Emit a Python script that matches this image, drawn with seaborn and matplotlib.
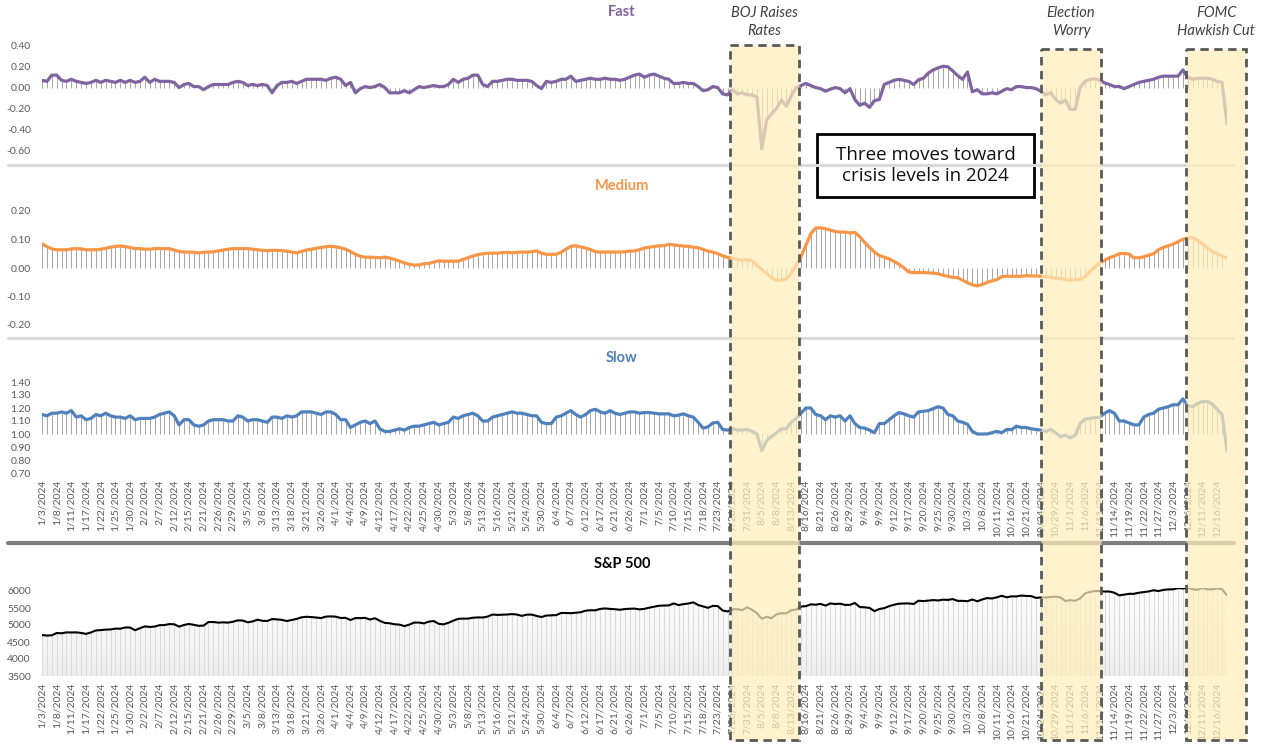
import numpy as np
import pandas as pd
import matplotlib
matplotlib.use("Agg")
import matplotlib.pyplot as plt
import seaborn as sns
from matplotlib.patches import Rectangle
from matplotlib.lines import Line2D
from matplotlib.colors import LinearSegmentedColormap
from matplotlib.ticker import FormatStrFormatter

# trading days shown: 1/3/2024 .. 12/18/2024 (NYSE calendar)
start_date = "2024-01-03"
end_date = "2024-12-18"
holidays = ["2024-01-15", "2024-02-19", "2024-03-29", "2024-05-27",
            "2024-06-19", "2024-07-04", "2024-09-02", "2024-11-28"]

fast = [
    0.07, 0.06, 0.12, 0.12, 0.07, 0.06, 0.08, 0.06, 0.05, 0.04, 0.05, 0.07, 0.05, 0.07, 0.06, 0.05, 0.07, 0.05, 0.07, 0.05,
    0.06, 0.10, 0.05, 0.08, 0.06, 0.06, 0.06, 0.05, 0.00, 0.03, 0.04, 0.01, 0.01, -0.02, 0.01, 0.03, 0.03, 0.03, 0.03, 0.05,
    0.06, 0.05, 0.02, 0.03, 0.02, 0.03, 0.02, -0.05, 0.02, 0.05, 0.05, 0.06, 0.04, 0.06, 0.08, 0.08, 0.08, 0.08, 0.07, 0.09,
    0.10, 0.08, 0.02, 0.05, -0.05, -0.01, 0.01, 0.00, 0.01, 0.03, 0.00, -0.05, -0.05, -0.05, -0.03, -0.05, -0.02, 0.01, 0.00, 0.01, 0.02, 0.01,
    0.01, 0.03, 0.08, 0.05, 0.08, 0.09, 0.12, 0.12, 0.03, 0.01, 0.06, 0.06, 0.07, 0.08, 0.08, 0.07, 0.07, 0.07, 0.06, 0.02, -0.01, 0.06,
    0.05, 0.06, 0.08, 0.08, 0.11, 0.06, 0.07, 0.08, 0.09, 0.08, 0.08, 0.09, 0.08, 0.08, 0.07, 0.08, 0.10, 0.12, 0.13,
    0.10, 0.12, 0.13, 0.11, 0.09, 0.08, 0.04, 0.04, 0.05, 0.04, 0.04, 0.01, -0.03, -0.02, 0.01, 0.00, -0.06, -0.07, -0.02, -0.06, -0.05, -0.07,
    -0.07, -0.09, -0.59, -0.31, -0.25, -0.20, -0.12, -0.18, -0.08, 0.00, 0.02, 0.04, 0.02, 0.00, -0.01, -0.035, -0.015, 0.00, -0.01, -0.05, -0.01, -0.115,
    -0.17, -0.15, -0.19, -0.125, -0.115, 0.03, 0.05, 0.07, 0.08, 0.07, 0.06, 0.03, 0.075, 0.09, 0.14, 0.17, 0.19, 0.205, 0.20, 0.16,
    0.115, 0.08, 0.15, -0.04, -0.02, -0.06, -0.06, -0.05, -0.06, -0.035, -0.01, -0.02, 0.01, 0.01, 0.00, 0.00, -0.01, -0.035, -0.07, -0.05, -0.115, -0.15, -0.12,
    -0.21, -0.21, 0.00, 0.06, 0.08, 0.085, 0.07, 0.045, 0.03, 0.01, 0.01, -0.01, 0.01, 0.03, 0.05, 0.06, 0.07, 0.08, 0.10, 0.11,
    0.11, 0.11, 0.11, 0.17, 0.10, 0.08, 0.09, 0.09, 0.09, 0.08, 0.06, 0.05, -0.35,
]

medium = [
    0.085, 0.075, 0.067, 0.064, 0.064, 0.064, 0.067, 0.068, 0.067, 0.064, 0.064, 0.064, 0.066, 0.069, 0.073, 0.076, 0.077, 0.075, 0.072, 0.068,
    0.068, 0.066, 0.066, 0.068, 0.068, 0.068, 0.068, 0.063, 0.058, 0.056, 0.056, 0.055, 0.053, 0.055, 0.056, 0.057, 0.060, 0.063, 0.066, 0.068,
    0.068, 0.068, 0.068, 0.066, 0.064, 0.062, 0.061, 0.062, 0.062, 0.061, 0.059, 0.056, 0.053, 0.058, 0.063, 0.066, 0.069, 0.072, 0.075, 0.076,
    0.074, 0.071, 0.066, 0.058, 0.048, 0.041, 0.038, 0.038, 0.037, 0.036, 0.038, 0.035, 0.030, 0.024, 0.018, 0.013, 0.010, 0.011, 0.015, 0.016, 0.021, 0.025,
    0.024, 0.024, 0.024, 0.024, 0.030, 0.036, 0.042, 0.047, 0.050, 0.052, 0.052, 0.052, 0.054, 0.055, 0.053, 0.055, 0.056, 0.056, 0.057, 0.060, 0.052, 0.048,
    0.048, 0.048, 0.055, 0.066, 0.076, 0.078, 0.074, 0.070, 0.065, 0.057, 0.056, 0.056, 0.056, 0.056, 0.056, 0.057, 0.059, 0.060, 0.064,
    0.070, 0.073, 0.075, 0.078, 0.078, 0.083, 0.081, 0.079, 0.077, 0.076, 0.073, 0.071, 0.065, 0.059, 0.056, 0.050, 0.043, 0.037, 0.035, 0.030, 0.027, 0.029,
    0.026, 0.009, -0.005, -0.020, -0.035, -0.043, -0.043, -0.038, -0.020, 0.010, 0.040, 0.080, 0.120, 0.140, 0.141, 0.138, 0.133, 0.128, 0.126, 0.126, 0.123, 0.125,
    0.110, 0.090, 0.072, 0.056, 0.044, 0.038, 0.032, 0.023, 0.013, 0.001, -0.014, -0.016, -0.016, -0.016, -0.017, -0.018, -0.020, -0.025, -0.029, -0.033,
    -0.034, -0.043, -0.052, -0.059, -0.063, -0.058, -0.051, -0.045, -0.041, -0.030, -0.029, -0.029, -0.029, -0.029, -0.027, -0.028, -0.028, -0.029, -0.030, -0.033, -0.036, -0.037, -0.040,
    -0.043, -0.041, -0.040, -0.031, -0.012, 0.003, 0.018, 0.027, 0.036, 0.042, 0.050, 0.051, 0.049, 0.036, 0.036, 0.039, 0.045, 0.050, 0.064, 0.072,
    0.078, 0.084, 0.092, 0.101, 0.105, 0.107, 0.097, 0.085, 0.070, 0.058, 0.050, 0.042, 0.035,
]

slow = [
    1.15, 1.14, 1.16, 1.16, 1.17, 1.16, 1.18, 1.13, 1.14, 1.11, 1.12, 1.15, 1.14, 1.16, 1.14, 1.13, 1.13, 1.12, 1.14, 1.11,
    1.12, 1.12, 1.12, 1.13, 1.15, 1.16, 1.17, 1.14, 1.07, 1.11, 1.11, 1.07, 1.06, 1.07, 1.10, 1.11, 1.11, 1.11, 1.10, 1.10,
    1.14, 1.13, 1.10, 1.11, 1.11, 1.10, 1.09, 1.13, 1.13, 1.12, 1.14, 1.13, 1.14, 1.17, 1.17, 1.17, 1.16, 1.15, 1.17, 1.17,
    1.15, 1.11, 1.11, 1.05, 1.07, 1.09, 1.10, 1.08, 1.10, 1.04, 1.02, 1.02, 1.03, 1.04, 1.03, 1.05, 1.06, 1.06, 1.07, 1.08, 1.09, 1.07,
    1.08, 1.09, 1.13, 1.12, 1.14, 1.15, 1.16, 1.14, 1.10, 1.10, 1.13, 1.14, 1.15, 1.16, 1.17, 1.16, 1.16, 1.15, 1.14, 1.14, 1.09, 1.08,
    1.08, 1.13, 1.14, 1.16, 1.18, 1.15, 1.13, 1.15, 1.18, 1.19, 1.17, 1.16, 1.18, 1.16, 1.15, 1.16, 1.17, 1.17, 1.16,
    1.165, 1.165, 1.16, 1.155, 1.155, 1.155, 1.14, 1.145, 1.155, 1.14, 1.13, 1.09, 1.045, 1.055, 1.085, 1.09, 1.035, 1.03, 1.04, 1.03, 1.03, 1.035,
    1.02, 1.00, 0.87, 0.95, 0.98, 1.01, 1.04, 1.04, 1.09, 1.12, 1.16, 1.20, 1.20, 1.15, 1.14, 1.11, 1.14, 1.13, 1.14, 1.10, 1.14, 1.08,
    1.05, 1.045, 1.03, 1.01, 1.08, 1.08, 1.11, 1.14, 1.165, 1.155, 1.14, 1.13, 1.17, 1.175, 1.18, 1.195, 1.21, 1.20, 1.15, 1.14,
    1.10, 1.09, 1.075, 1.02, 1.00, 1.00, 1.00, 1.01, 1.02, 1.01, 1.035, 1.033, 1.06, 1.05, 1.05, 1.04, 1.035, 1.03, 1.02, 1.035, 1.01, 0.98, 0.99,
    0.97, 0.99, 1.08, 1.115, 1.12, 1.125, 1.13, 1.16, 1.18, 1.16, 1.10, 1.10, 1.085, 1.07, 1.07, 1.13, 1.15, 1.16, 1.19, 1.20,
    1.21, 1.225, 1.225, 1.27, 1.22, 1.21, 1.235, 1.25, 1.25, 1.23, 1.19, 1.15, 0.87,
]

spx = [
    4705, 4689, 4697, 4764, 4757, 4783, 4780, 4784, 4766, 4739, 4781, 4840, 4850, 4865, 4869, 4894, 4891, 4928, 4925, 4846,
    4906, 4959, 4943, 4954, 4995, 4998, 5027, 5022, 4953, 5001, 5030, 5006, 4976, 4982, 5087, 5089, 5070, 5078, 5070, 5096,
    5137, 5131, 5079, 5105, 5157, 5124, 5118, 5175, 5165, 5150, 5117, 5149, 5179, 5225, 5242, 5234, 5218, 5204, 5248, 5254,
    5244, 5206, 5211, 5147, 5204, 5202, 5210, 5161, 5199, 5123, 5062, 5051, 5022, 5011, 4967, 5011, 5071, 5072, 5048, 5100, 5116, 5036,
    5018, 5064, 5128, 5181, 5188, 5188, 5214, 5223, 5221, 5247, 5308, 5297, 5303, 5308, 5321, 5307, 5268, 5305, 5306, 5267, 5235, 5278,
    5283, 5291, 5354, 5353, 5347, 5361, 5375, 5421, 5434, 5432, 5473, 5487, 5473, 5465, 5448, 5469, 5478, 5483, 5460,
    5475, 5509, 5537, 5567, 5573, 5577, 5634, 5585, 5615, 5631, 5667, 5588, 5545, 5505, 5564, 5556, 5427, 5399, 5459, 5464, 5436, 5522,
    5447, 5347, 5186, 5240, 5200, 5319, 5344, 5344, 5434, 5455, 5543, 5554, 5608, 5597, 5621, 5571, 5635, 5617, 5626, 5592, 5592, 5648,
    5529, 5520, 5503, 5408, 5471, 5496, 5554, 5596, 5626, 5633, 5635, 5618, 5714, 5703, 5719, 5733, 5722, 5745, 5738, 5762,
    5709, 5710, 5700, 5751, 5696, 5751, 5792, 5780, 5815, 5860, 5815, 5842, 5841, 5865, 5854, 5851, 5797, 5810, 5808, 5824, 5833, 5814, 5705,
    5729, 5713, 5783, 5929, 5973, 5996, 6001, 5984, 5985, 5949, 5871, 5894, 5917, 5917, 5949, 5969, 5987, 6022, 5999, 6032,
    6047, 6050, 6086, 6075, 6090, 6053, 6035, 6084, 6051, 6051, 6074, 6051, 5872,
]

events = ["BOJ Raises\nRates", "Election\nWorry", "FOMC\nHawkish Cut"]
callout = "Three moves toward\ncrisis levels in 2024"

dates = pd.bdate_range(start_date, end_date, freq="C", holidays=holidays)
df = pd.DataFrame({"date": dates, "fast": fast, "medium": medium,
                   "slow": slow, "spx": spx})
df["pos"] = np.arange(len(df))
tick_labels = [f"{d.month}/{d.day}/{d.year}" for d in df["date"]]

sns.set_style("white")
plt.rcParams["font.family"] = ["Lato", "DejaVu Sans"]
plt.rcParams["axes.unicode_minus"] = False

W, H = 1263, 750
fig = plt.figure(figsize=(W / 100, H / 100), dpi=100)
X0, X1 = 42, 1227
last = len(df) - 1

# title, column, colour, line width, y range, ticks, baseline, title y, top px, bottom px, x labels
panels = [
    ("Fast", "fast", "#8064A2", 2.3, (-0.6, 0.4), np.linspace(-0.6, 0.4, 6), 0.0, 12, 46, 150, False),
    ("Medium", "medium", "#F79646", 2.3, (-0.2, 0.2), np.linspace(-0.2, 0.2, 5), 0.0, 186, 211, 325, False),
    ("Slow", "slow", "#4F81BD", 2.3, (0.7, 1.4), np.linspace(0.7, 1.4, 8), 1.0, 358, 382, 473, True),
    ("S&P 500", "spx", "#000000", 1.5, (3500, 6100), np.arange(3500, 6001, 500), 3500, 564, 587.6, 676, True),
]

for title, col, color, lw, (lo, hi), ticks, base, ty, top, bot, show_x in panels:
    ax = fig.add_axes([X0 / W, 1 - bot / H, (X1 - X0) / W, (bot - top) / H])
    ax.patch.set_alpha(0)
    if col == "spx":
        poly = ax.fill_between(df["pos"], base, df[col], facecolor="none", edgecolor="none")
        grad = np.linspace(0, 1, 256).reshape(-1, 1)
        cmap = LinearSegmentedColormap.from_list("g", ["#EEEEEE", "#FFFFFF"])
        im = ax.imshow(grad, extent=[0, last, lo, hi], origin="lower", aspect="auto", cmap=cmap, zorder=1)
        im.set_clip_path(poly.get_paths()[0], transform=ax.transData)
        drop = "#DADADA"
    else:
        drop = "#A6A6A6"
    ax.vlines(df["pos"], base, df[col], colors=drop, linewidth=0.7, zorder=2)
    sns.lineplot(data=df, x="pos", y=col, ax=ax, color=color, linewidth=lw, zorder=3)
    ax.set_xlim(0, last)
    ax.set_ylim(lo, hi)
    ax.set_yticks(ticks)
    if col == "spx":
        ax.yaxis.set_major_formatter(FormatStrFormatter("%d"))
    else:
        ax.yaxis.set_major_formatter(FormatStrFormatter("%.2f"))
    if show_x:
        ax.set_xticks(df["pos"][::3])
        ax.set_xticklabels(tick_labels[::3], rotation=90)
    else:
        ax.set_xticks([])
    ax.set_xlabel("")
    ax.set_ylabel("")
    for s in ax.spines.values():
        s.set_visible(False)
    ax.tick_params(axis="y", length=0, labelsize=7.5, labelcolor="#595959", pad=8)
    ax.tick_params(axis="x", length=0, labelsize=7.5, labelcolor="#595959", pad=5)
    fig.text(622 / W, 1 - ty / H, title, ha="center", va="center",
             fontsize=10.5, fontweight="bold", color=color)

# separators and call-out box, in pixel coordinates
pxa = fig.add_axes([0, 0, 1, 1], zorder=5)
pxa.set_xlim(0, W)
pxa.set_ylim(H, 0)
pxa.axis("off")
pxa.add_line(Line2D([8, 1234], [165, 165], color="#D9D9D9", linewidth=2.2))
pxa.add_line(Line2D([8, 1234], [338, 338], color="#D9D9D9", linewidth=2.2))
pxa.add_line(Line2D([8, 1234], [543, 543], color="#7F7F7F", linewidth=3))
pxa.add_patch(Rectangle((817, 134), 217, 63, facecolor="white", edgecolor="black", linewidth=2))
pxa.text(925.5, 165.5, callout, ha="center", va="center", fontsize=13.5,
         family=["Open Sans", "DejaVu Sans"], color="#111111", linespacing=1.15)

# highlighted event windows, x in trading-day positions
ova = fig.add_axes([X0 / W, 0, (X1 - X0) / W, 1], zorder=10)
ova.set_xlim(0, last)
ova.set_ylim(H, 0)
ova.axis("off")
windows = [(140.5, 154.6, 45), (204.0, 216.3, 49), (233.6, 245.9, 49)]
for label, (a, b, top) in zip(events, windows):
    ova.add_patch(Rectangle((a, top), b - a, 740 - top, facecolor=(1.0, 0.93, 0.73, 0.72),
                            edgecolor="#595959", linestyle=(0, (3, 2)), linewidth=2, clip_on=False))
    ova.text((a + b) / 2, 22, label, ha="center", va="center", fontsize=10.5,
             style="italic", color="#404040", linespacing=1.35, clip_on=False)

fig.savefig("out.png", dpi=100)
